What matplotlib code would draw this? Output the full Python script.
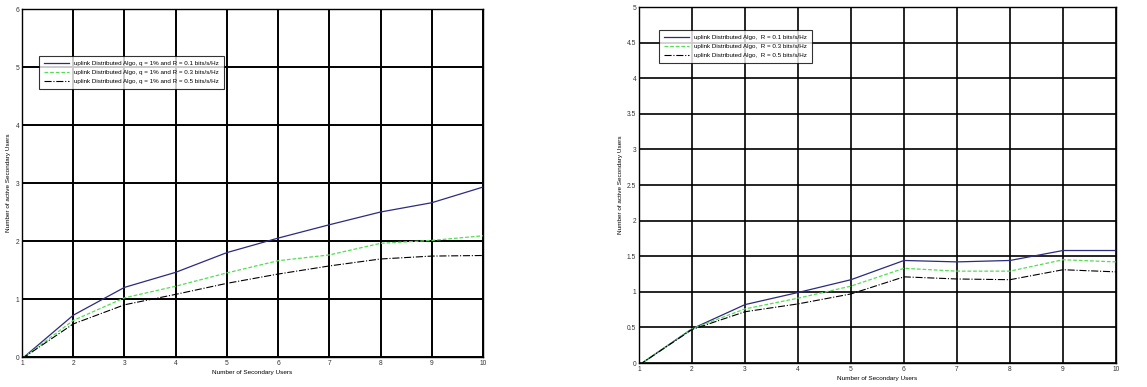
import numpy as np
from matplotlib import pyplot as plt

users = [1, 2, 3, 4, 5, 6, 7, 8, 9, 10]

# left panel: q = 1%
left_r01 = [-0.03, 0.72, 1.20, 1.46, 1.80, 2.05, 2.28, 2.50, 2.66, 2.93]
left_r03 = [-0.03, 0.63, 1.02, 1.22, 1.45, 1.66, 1.76, 1.96, 2.01, 2.09]
left_r05 = [-0.03, 0.57, 0.90, 1.08, 1.27, 1.43, 1.57, 1.69, 1.74, 1.75]

# right panel
right_r01 = [-0.03, 0.48, 0.82, 0.99, 1.17, 1.44, 1.42, 1.44, 1.58, 1.58]
right_r03 = [-0.03, 0.48, 0.76, 0.91, 1.08, 1.33, 1.29, 1.29, 1.45, 1.42]
right_r05 = [-0.03, 0.47, 0.72, 0.83, 0.97, 1.21, 1.18, 1.17, 1.31, 1.28]

left_labels = [
    "uplink Distributed Algo, q = 1% and R = 0.1 bits/s/Hz",
    "uplink Distributed Algo, q = 1% and R = 0.3 bits/s/Hz",
    "uplink Distributed Algo, q = 1% and R = 0.5 bits/s/Hz",
]
right_labels = [
    "uplink Distributed Algo,  R = 0.1 bits/s/Hz",
    "uplink Distributed Algo,  R = 0.3 bits/s/Hz",
    "uplink Distributed Algo,  R = 0.5 bits/s/Hz",
]

plt.rcParams['font.family'] = ['Liberation Sans', 'DejaVu Sans']

STYLES = [
    dict(color='#2b2b80', linestyle='-', linewidth=0.9),
    dict(color='#55dd55', linestyle=(0, (3, 1.5)), linewidth=0.9),
    dict(color='black', linestyle='-.', linewidth=0.8),
]


def draw_panel(ax, series, labels, ymax, ystep, legend_box, grid_lw):
    for vals, lab, st in zip(series, labels, STYLES):
        ax.plot(users, vals, label=lab, **st)
    ax.set_xlim(1, 10)
    ax.set_ylim(0, ymax)
    ax.set_xticks(users)
    ax.set_yticks(np.arange(0, ymax + ystep / 2, ystep))
    ax.yaxis.set_major_formatter(plt.FuncFormatter(lambda v, p: f"{v:g}"))
    ax.grid(True, color='black', linewidth=grid_lw)
    ax.tick_params(labelsize=4.8, length=0, pad=2, colors='#333333')
    for sp in ax.spines.values():
        sp.set_linewidth(1.0)
    ax.set_xlabel("Number of Secondary Users", fontsize=4.6, labelpad=2)
    ax.set_ylabel("Number of active Secondary Users", fontsize=4.6, labelpad=3)
    leg = ax.legend(loc='upper left', bbox_to_anchor=legend_box, fontsize=4.5,
                    frameon=True, fancybox=False, edgecolor='black',
                    handlelength=4, borderpad=0.8, labelspacing=0.6)
    leg.get_frame().set_linewidth(0.8)


fig = plt.figure(figsize=(11.47, 3.87), dpi=100)
ax1 = fig.add_axes([22 / 1147, 30 / 387, 461 / 1147, 348 / 387])
ax2 = fig.add_axes([639 / 1147, 24 / 387, 477 / 1147, 356 / 387])

draw_panel(ax1, [left_r01, left_r03, left_r05], left_labels, 6, 1, (0.03, 0.875), 1.4)
draw_panel(ax2, [right_r01, right_r03, right_r05], right_labels, 5, 0.5, (0.035, 0.945), 1.2)

fig.savefig("out.png", dpi=100)
